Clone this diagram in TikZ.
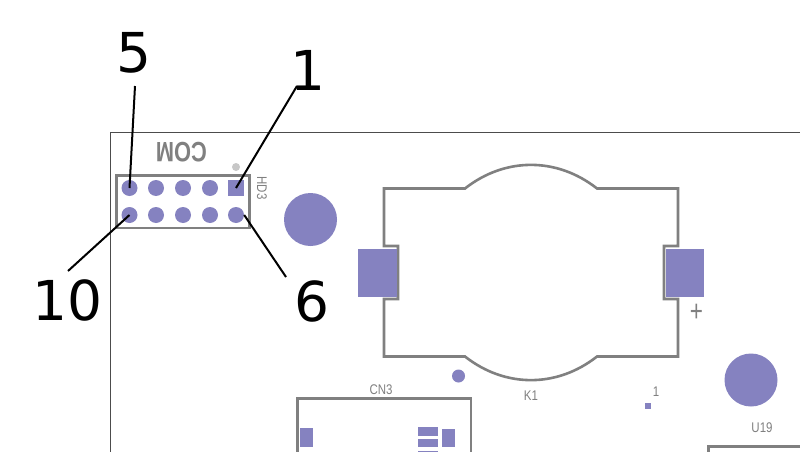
\documentclass[tikz,border=0pt]{standalone}
\usepackage{fontspec}
\setmainfont{Liberation Sans}
\newfontfamily\bigfont{DejaVu Sans}
\definecolor{pad}{HTML}{8582C0}
\definecolor{silk}{HTML}{808080}
\tikzset{
  x=1pt,y=-1pt,
  silkline/.style={draw=silk,line width=2.6pt,line join=miter},
  padc/.style={circle,fill=pad,inner sep=0pt,minimum size=#1},
  padr/.style={fill=pad,inner sep=0pt},
  big/.style={font=\bigfont\fontsize{55}{55}\selectfont,text=black,inner sep=0pt},
  small/.style={font=\fontsize{14}{14}\selectfont,text=silk,inner sep=0pt,xscale=.82},
  leader/.style={draw=black,line width=2pt},
}
\begin{document}
\begin{tikzpicture}
\useasboundingbox (0,0) rectangle (800,452);
\fill[white] (0,0) rectangle (800,452);
% board outline
\draw[black!70,line width=1.2pt] (800,132.5) -- (110.5,132.5) -- (110.5,452);
% header
\draw[silkline] (116.5,175.5) rectangle (249.5,228);
\foreach \n/\x/\y in {a/129.5/188,b/156/188,c/183/188,d/210/188,
  f/129.5/215,g/156/215,h/183/215,i/210/215,j/236/215}
  \node[padc=16pt] (p\n) at (\x,\y) {};
\node[padr,minimum width=16pt,minimum height=16pt] (pe) at (236,188) {};
\node[circle,fill=black!22,inner sep=0pt,minimum size=8pt] (dot) at (236,167) {};
\node[rotate=-90,small] (hd) at (262,188) {HD3};
\node[rotate=180,xscale=.78,text=silk,font=\bfseries\fontsize{28}{28}\selectfont,inner sep=0pt] (com) at (181.5,152) {COM};
% holes
\node[padc=53pt] (h1) at (310.5,219.5) {};
\node[padc=53pt] (h2) at (751,380) {};
\node[padc=13pt] (h3) at (458.5,376) {};
\node[padr,minimum width=6.5pt,minimum height=6.5pt] (s1) at (648,406) {};
% battery holder
\draw[silkline] (465,188.5) .. controls (505,157) and (557,157) .. (597,188.5)
  -- (678,188.5) -- (678,246) -- (664,246) -- (664,299) -- (678,299) -- (678,356.5)
  -- (597,356.5) .. controls (557,388) and (505,388) .. (465,356.5)
  -- (384,356.5) -- (384,299) -- (398,299) -- (398,246) -- (384,246) -- (384,188.5) -- cycle;
\node[padr,minimum width=39pt,minimum height=48pt] (bl) at (377.5,273) {};
\node[padr,minimum width=38pt,minimum height=48pt] (br) at (685,273) {};
\node[text=silk,xscale=.75,font=\fontsize{30}{30}\selectfont,inner sep=0pt] (plus) at (696.5,312.5) {+};
\node[small] (k1) at (531,395.5) {K1};
\node[small] (one) at (656,392) {1};
\node[small] (u19) at (762,428) {U19};
% CN3
\node[small] (cn3) at (381,390) {CN3};
\draw[silkline] (297.5,452) -- (297.5,398.5) -- (471,398.5) -- (471,452);
\node[padr,minimum width=13pt,minimum height=19pt] (c1) at (306.5,437.5) {};
\node[padr,minimum width=13pt,minimum height=18pt] (c2) at (448.5,438) {};
\node[padr,minimum width=19.5pt,minimum height=9pt] (c3) at (428,431.5) {};
\node[padr,minimum width=19.5pt,minimum height=8pt] (c4) at (428,443) {};
\fill[pad] (418,451) rectangle (437.5,452);
% U19
\draw[silkline] (708.5,452) -- (708.5,446.5) -- (800,446.5);
% callouts
\node[big] (n5) at (134,53) {5};
\node[big] (n1) at (308,70) {1};
\node[big] (n10) at (67.5,300.5) {10};
\node[big] (n6) at (312,301) {6};
\coordinate (e5) at (135,86);
\coordinate (e1) at (297,86);
\coordinate (e10) at (68,271);
\coordinate (e6) at (286,277);
\draw[leader] (e5) -- (pa.center);
\draw[leader] (e1) -- (pe.center);
\draw[leader] (pf.center) -- (e10);
\draw[leader] (pj.east) -- (e6);
\end{tikzpicture}
\end{document}
